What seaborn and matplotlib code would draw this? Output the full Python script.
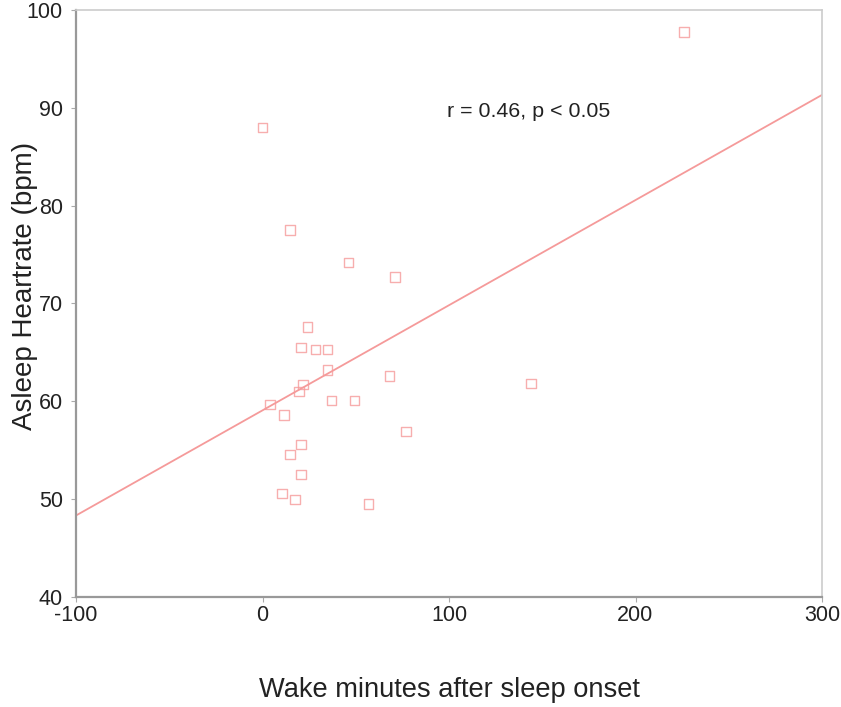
import numpy as np
import pandas as pd
import matplotlib
matplotlib.use("Agg")
import matplotlib.pyplot as plt
import seaborn as sns

wake_minutes = [226, 0, 14.7, 46, 71, 24, 20.6, 28.6, 35, 35, 68, 21.7, 19.5, 144,
                4, 37, 49.5, 11.5, 77, 20.6, 14.7, 20.6, 10.4, 17.4, 57]
heart_rate = [97.75, 88.0, 77.5, 74.2, 72.7, 67.6, 65.5, 65.3, 65.3, 63.2, 62.6, 61.7,
              61.0, 61.8, 59.7, 60.1, 60.1, 58.6, 56.9, 55.6, 54.6, 52.5, 50.6, 50.0, 49.5]
x_ticks = [-100, 0, 100, 200, 300]
y_ticks = [40, 50, 60, 70, 80, 90, 100]
annotation = "r = 0.46, p < 0.05"

df = pd.DataFrame({"wake": wake_minutes, "hr": heart_rate})

sns.set_theme(style="white")
plt.rcParams["font.family"] = ["Liberation Sans", "DejaVu Sans"]
plt.rcParams["axes.unicode_minus"] = False

fig = plt.figure(figsize=(8.41, 7.07), dpi=100)
ax = fig.add_axes([76 / 841, 1 - 597 / 707, (822 - 76) / 841, (597 - 10) / 707])
ax.set_xlim(-100, 300)
ax.set_ylim(40, 100)

col = "#f59a9a"
sns.regplot(data=df, x="wake", y="hr", ax=ax, ci=None, truncate=False,
            marker="s",
            scatter_kws=dict(s=45, facecolors="none", edgecolors=col, linewidths=1.0),
            line_kws=dict(color=col, lw=1.3))
ax.set_xlim(-100, 300)
ax.set_ylim(40, 100)

ax.set_xticks(x_ticks)
ax.set_yticks(y_ticks)
ax.tick_params(axis="both", which="both", direction="out", length=3.5, width=0.8,
               color="#aaaaaa", labelsize=15.5, labelcolor="#222222", bottom=True, left=True)
ax.tick_params(axis="y", pad=6)
ax.tick_params(axis="x", pad=2.5)
ax.set_xlabel("Wake minutes after sleep onset", fontsize=19.6, color="#222222")
ax.set_ylabel("Asleep Heartrate (bpm)", fontsize=20, color="#222222")
ax.xaxis.set_label_coords(0.5, -(690 - 597) / 587, transform=ax.transAxes)
ax.yaxis.set_label_coords(-(76 - 25) / 746, (597 - 286) / 587, transform=ax.transAxes)
ax.xaxis.label.set_va("center")
ax.yaxis.label.set_va("center")

for side in ["left", "bottom"]:
    ax.spines[side].set_color("#999999")
    ax.spines[side].set_linewidth(1.6)
for side in ["top", "right"]:
    ax.spines[side].set_color("#cccccc")
    ax.spines[side].set_linewidth(1.2)

ax.text(99, 89.6, annotation, fontsize=15.4, color="#222222", ha="left", va="center")

fig.savefig("out.png", dpi=100)
